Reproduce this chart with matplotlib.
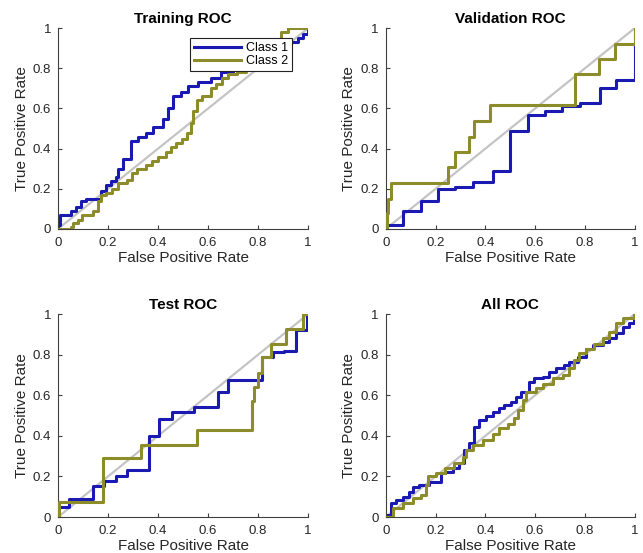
import numpy as np
import matplotlib
matplotlib.use("Agg")
import matplotlib.pyplot as plt
from matplotlib.ticker import FormatStrFormatter

plt.rcParams['font.family'] = ['Liberation Sans', 'DejaVu Sans']

# ROC step corners: at each fpr the curve jumps to tpr
train_fpr1 = [0, 0, 0.01, 0.05, 0.07, 0.09, 0.11, 0.17, 0.19, 0.21, 0.23, 0.24, 0.26, 0.29,
              0.32, 0.35, 0.38, 0.42, 0.44, 0.46, 0.49, 0.52, 0.56, 0.61, 0.65, 0.70, 0.75,
              0.80, 0.85, 0.90, 0.93, 0.96, 0.98, 1.0]
train_tpr1 = [0, 0.02, 0.07, 0.09, 0.11, 0.14, 0.15, 0.19, 0.22, 0.24, 0.26, 0.30, 0.35, 0.44,
              0.46, 0.48, 0.51, 0.55, 0.60, 0.66, 0.68, 0.71, 0.73, 0.75, 0.78, 0.81, 0.84,
              0.87, 0.89, 0.91, 0.93, 0.95, 0.97, 0.99]
train_fpr2 = [0, 0.05, 0.06, 0.08, 0.095, 0.14, 0.16, 0.17, 0.19, 0.215, 0.24, 0.275, 0.295,
              0.315, 0.35, 0.375, 0.40, 0.43, 0.45, 0.47, 0.495, 0.515, 0.53, 0.54, 0.555,
              0.575, 0.61, 0.63, 0.655, 0.68, 0.715, 0.75, 0.80, 0.84, 0.87, 0.89, 0.92, 1.0]
train_tpr2 = [0, 0.01, 0.03, 0.045, 0.07, 0.09, 0.14, 0.17, 0.18, 0.20, 0.23, 0.245, 0.28,
              0.30, 0.32, 0.34, 0.36, 0.385, 0.41, 0.43, 0.45, 0.48, 0.53, 0.59, 0.64,
              0.66, 0.70, 0.72, 0.75, 0.77, 0.78, 0.80, 0.84, 0.88, 0.93, 0.98, 1.0, 1.0]

val_fpr1 = [0, 0, 0.07, 0.14, 0.21, 0.28, 0.35, 0.43, 0.50, 0.57, 0.64, 0.71, 0.78, 0.86,
            0.925, 1.0, 1.0]
val_tpr1 = [0, 0.02, 0.09, 0.14, 0.20, 0.21, 0.235, 0.29, 0.49, 0.57, 0.59, 0.61, 0.625,
            0.70, 0.74, 0.92, 1.0]
val_fpr2 = [0, 0.005, 0.01, 0.02, 0.25, 0.28, 0.335, 0.355, 0.42, 0.76, 0.855, 0.92, 1.0]
val_tpr2 = [0, 0.08, 0.15, 0.23, 0.31, 0.385, 0.46, 0.54, 0.615, 0.77, 0.845, 0.92, 1.0]

test_fpr1 = [0, 0, 0.045, 0.14, 0.185, 0.23, 0.275, 0.365, 0.405, 0.455, 0.545, 0.64, 0.68,
             0.815, 0.86, 0.905, 0.95, 0.995, 1.0]
test_tpr1 = [0, 0.05, 0.09, 0.155, 0.18, 0.20, 0.23, 0.40, 0.485, 0.52, 0.54, 0.615, 0.675,
             0.79, 0.815, 0.82, 0.92, 0.99, 1.0]
test_fpr2 = [0, 0.005, 0.18, 0.33, 0.555, 0.775, 0.785, 0.80, 0.815, 0.85, 0.91, 0.98, 1.0]
test_tpr2 = [0, 0.075, 0.29, 0.355, 0.43, 0.57, 0.64, 0.71, 0.79, 0.855, 0.925, 1.0, 1.0]

all_fpr1 = [0, 0, 0.021, 0.041, 0.068, 0.095, 0.108, 0.135, 0.175, 0.222, 0.236, 0.269,
            0.296, 0.316, 0.336, 0.356, 0.376, 0.403, 0.43, 0.456, 0.477, 0.503, 0.523,
            0.543, 0.577, 0.597, 0.63, 0.657, 0.684, 0.718, 0.738, 0.771, 0.805, 0.831,
            0.871, 0.898, 0.925, 0.952, 0.979, 0.999]
all_tpr1 = [0, 0.01, 0.067, 0.084, 0.10, 0.125, 0.15, 0.158, 0.174, 0.215, 0.22, 0.24,
            0.264, 0.33, 0.363, 0.445, 0.478, 0.50, 0.52, 0.535, 0.55, 0.568, 0.593,
            0.617, 0.667, 0.683, 0.69, 0.716, 0.732, 0.749, 0.765, 0.79, 0.83, 0.847,
            0.864, 0.88, 0.905, 0.937, 0.954, 0.995]
all_fpr2 = [0, 0.028, 0.068, 0.108, 0.142, 0.162, 0.169, 0.202, 0.236, 0.276, 0.309, 0.323,
            0.349, 0.39, 0.43, 0.456, 0.49, 0.517, 0.53, 0.55, 0.564, 0.604, 0.63, 0.671,
            0.711, 0.738, 0.758, 0.778, 0.805, 0.838, 0.871, 0.898, 0.925, 0.952, 0.999]
all_tpr2 = [0, 0.043, 0.067, 0.092, 0.108, 0.158, 0.20, 0.215, 0.24, 0.264, 0.297, 0.33,
            0.355, 0.38, 0.41, 0.437, 0.46, 0.486, 0.527, 0.576, 0.617, 0.634, 0.658, 0.683,
            0.70, 0.732, 0.773, 0.806, 0.83, 0.855, 0.88, 0.913, 0.954, 0.979, 1.0]

titles = ['Training ROC', 'Validation ROC', 'Test ROC', 'All ROC']
curves = [(train_fpr1, train_tpr1, train_fpr2, train_tpr2),
          (val_fpr1, val_tpr1, val_fpr2, val_tpr2),
          (test_fpr1, test_tpr1, test_fpr2, test_tpr2),
          (all_fpr1, all_tpr1, all_fpr2, all_tpr2)]
class_names = ['Class 1', 'Class 2']
diag = [0, 1]
ticks = [0, 0.2, 0.4, 0.6, 0.8, 1]

blue = '#1a1ab2'
olive = '#8c8c2a'
grey_diag = '#c4c4c4'
axis_col = '#404040'
text_col = '#262626'

fig = plt.figure(figsize=(6.43, 5.53), dpi=100)
positions = [[0.0902, 0.586, 0.389, 0.363],
             [0.600, 0.586, 0.387, 0.363],
             [0.0902, 0.065, 0.389, 0.367],
             [0.600, 0.065, 0.387, 0.367]]

for i in range(4):
    ax = fig.add_axes(positions[i])
    f1, t1, f2, t2 = curves[i]
    ax.plot(diag, diag, color=grey_diag, lw=1.6, zorder=1)
    l1, = ax.plot(f1, t1, drawstyle='steps-post', color=blue, lw=2.2, label=class_names[0], zorder=2)
    l2, = ax.plot(f2, t2, drawstyle='steps-post', color=olive, lw=2.2, label=class_names[1], zorder=3)
    ax.set_xlim(0, 1)
    ax.set_ylim(0, 1)
    ax.set_xticks(ticks)
    ax.set_yticks(ticks)
    ax.xaxis.set_major_formatter(FormatStrFormatter('%g'))
    ax.yaxis.set_major_formatter(FormatStrFormatter('%g'))
    ax.tick_params(direction='in', length=3, width=0.8, colors=axis_col,
                   labelcolor=text_col, labelsize=9.5)
    ax.tick_params(axis='x', pad=6)
    ax.tick_params(axis='y', pad=5)
    for s in ['top', 'right']:
        ax.spines[s].set_visible(False)
    for s in ['left', 'bottom']:
        ax.spines[s].set_color(axis_col)
        ax.spines[s].set_linewidth(0.8)
    ax.set_title(titles[i], fontsize=11, fontweight='bold', color='black', pad=4)
    ax.set_xlabel('False Positive Rate', fontsize=11, color=text_col, labelpad=1)
    ax.set_ylabel('True Positive Rate', fontsize=11, color=text_col, labelpad=3)
    if i == 0:
        leg = ax.legend(handles=[l1, l2], loc='upper left', bbox_to_anchor=(0.528, 0.95),
                        fontsize=9, frameon=True, fancybox=False, handlelength=3.8,
                        borderpad=0.3, labelspacing=0.1, handletextpad=0.4,
                        borderaxespad=0)
        leg.get_frame().set_edgecolor('#222222')
        leg.get_frame().set_linewidth(0.8)
        leg.get_frame().set_alpha(1)

fig.savefig('out.png', dpi=100)
